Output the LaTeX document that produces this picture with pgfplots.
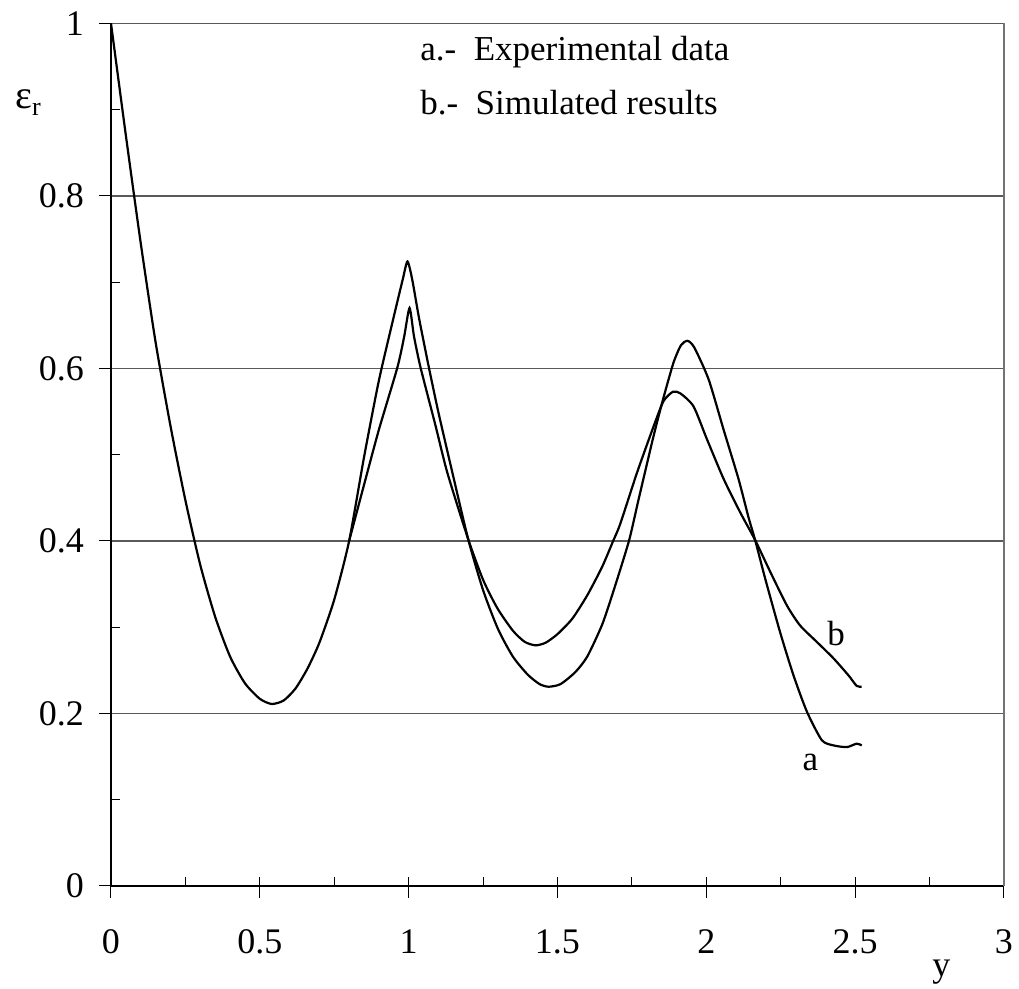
\documentclass[border=0pt]{standalone}
\usepackage{fontspec}
\setmainfont{Liberation Serif}
\usepackage{pgfplots}
\pgfplotsset{compat=1.18}
\begin{document}
\fontsize{17.5}{21}\selectfont
\begin{tikzpicture}
\useasboundingbox (-55.5pt,-51.5pt) rectangle (454pt,443pt);
\begin{axis}[
  at={(0,0)}, anchor=south west,
  scale only axis, width=446.5pt, height=431.3pt,
  xmin=0, xmax=3, ymin=0, ymax=1,
  axis x line*=bottom, axis y line*=left,
  axis line style={black, line width=0.8pt},
  xtick={0,0.5,1,1.5,2,2.5,3},
  ytick={0,0.2,0.4,0.6,0.8,1},
  xticklabels={0,0.5,1,1.5,2,2.5,3},
  yticklabels={0,0.2,0.4,0.6,0.8,1},
  tick align=outside,
  major tick length=6pt,
  tick style={black, line width=0.5pt},
  extra x ticks={0,0.25,0.5,0.75,1,1.25,1.5,1.75,2,2.25,2.5,2.75,3},
  extra x tick labels={},
  extra y ticks={0.1,0.3,0.5,0.7,0.9},
  extra y tick labels={},
  extra tick style={tick align=inside, major tick length=4.3pt, grid=none},
  ymajorgrids,
  grid style={black!65, line width=0.6pt},
  xticklabel style={yshift=-10pt, font=\fontsize{18}{21}\selectfont},
  yticklabel style={xshift=-1.5pt, font=\fontsize{18}{21}\selectfont},
  /pgf/number format/assume math mode=true,
  clip=false,
]
% common part + curve a (experimental)
\addplot[black, line width=1.1pt, smooth, tension=0.4] coordinates {
(0,1.0) (0.05,0.87) (0.1,0.745) (0.15,0.63) (0.2,0.533) (0.25,0.447)
(0.3,0.372) (0.35,0.312) (0.4,0.266) (0.45,0.235) (0.5,0.217) (0.54,0.211)
(0.58,0.215) (0.62,0.229) (0.66,0.252) (0.7,0.282) (0.75,0.332) (0.8,0.40)
(0.85,0.497) (0.9,0.586) (0.95,0.66) (0.98,0.703) (0.996,0.724) (1.012,0.703)
(1.035,0.658) (1.068,0.601) (1.1,0.549) (1.147,0.479) (1.2,0.402)
(1.25,0.343) (1.3,0.298) (1.35,0.266) (1.4,0.245) (1.44,0.234) (1.47,0.231)
(1.51,0.234) (1.56,0.248) (1.6,0.266) (1.65,0.303) (1.689,0.343) (1.74,0.40)
(1.773,0.449) (1.823,0.522) (1.856,0.566) (1.89,0.607) (1.915,0.627)
(1.937,0.632) (1.96,0.624) (2.008,0.587) (2.058,0.529) (2.108,0.472)
(2.142,0.427) (2.164,0.401) (2.198,0.356) (2.248,0.294) (2.293,0.244)
(2.338,0.202) (2.388,0.169) (2.427,0.163) (2.472,0.161) (2.505,0.165)
(2.522,0.163)
};
% curve b (simulated)
\addplot[black, line width=1.1pt, smooth, tension=0.4] coordinates {
(0.8,0.40) (0.85,0.465) (0.9,0.529) (0.962,0.601) (0.985,0.637)
(1.003,0.670) (1.018,0.637) (1.04,0.601) (1.09,0.534) (1.13,0.479)
(1.2,0.402) (1.25,0.355) (1.298,0.322) (1.35,0.296) (1.39,0.283)
(1.426,0.279) (1.46,0.282) (1.5,0.292) (1.55,0.31) (1.6,0.337) (1.65,0.37) (1.687,0.40)
(1.711,0.42) (1.767,0.479) (1.823,0.533) (1.856,0.562) (1.888,0.573)
(1.913,0.571) (1.957,0.556) (2.002,0.518) (2.058,0.472) (2.114,0.433)
(2.164,0.401) (2.215,0.364) (2.271,0.325) (2.315,0.302) (2.371,0.283)
(2.427,0.264) (2.478,0.244) (2.505,0.232) (2.522,0.231)
};
\draw[black!55, line width=1pt] (rel axis cs:1,0) -- (rel axis cs:1,1);
\node[anchor=west, inner sep=0pt] at (axis cs:1.038,0.967) {a.-\ \ Experimental data};
\node[anchor=west, inner sep=0pt] at (axis cs:1.038,0.908) {b.-\ \ Simulated results};
\node[inner sep=0pt] at (axis cs:2.436,0.293) {b};
\node[inner sep=0pt] at (axis cs:2.350,0.143) {a};
\node[inner sep=0pt] at (axis cs:-0.279,0.908) {\fontsize{20}{24}\selectfont ε\raisebox{-0.35ex}{\fontsize{13}{15}\selectfont r}};
\node[inner sep=0pt] at (axis cs:2.79,-0.1) {\fontsize{18}{21}\selectfont y};
\end{axis}
\end{tikzpicture}
\end{document}
